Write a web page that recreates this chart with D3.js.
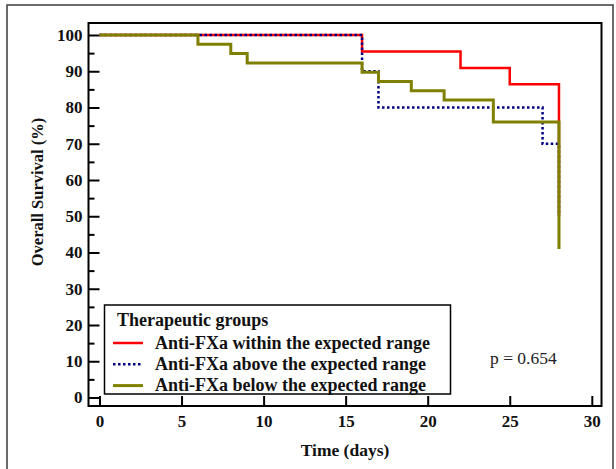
<!DOCTYPE html>
<html lang="en">
<head>
<meta charset="utf-8">
<title>Overall survival by therapeutic group</title>
<script src="https://d3js.org/d3.v7.min.js"></script>
<style>
  body { margin: 0; background: #fff; }
  text { font-family: "Liberation Serif", "Times New Roman", serif; }
</style>
</head>
<body>
<div id="chart"></div>
<script>
// Kaplan-Meier step points: [day, survival %]
var withinRange = [[0, 100], [16, 95.45], [22, 90.9], [25, 86.4], [28, 50]];
var aboveRange  = [[0, 100], [16, 90], [17, 80], [27, 70], [28, 50]];
var belowRange  = [[0, 100], [6, 97.44], [8, 94.87], [9, 92.31], [16, 89.74], [17, 87.18],
                   [19, 84.62], [21, 82.05], [24, 76.0], [28, 41]];
var endDay = 28;

var groupNames = ["Anti-FXa within the expected range",
                  "Anti-FXa above the expected range",
                  "Anti-FXa below the expected range"];
var groupColors = ["#ff0000", "#000080", "#808000"];
var xTicks = [0, 5, 10, 15, 20, 25, 30];
var yTicks = [0, 10, 20, 30, 40, 50, 60, 70, 80, 90, 100];
var yMinor = [5, 15, 25, 35, 45, 55, 65, 75, 85, 95];
var pValue = "p = 0.654";

var W = 616, H = 469;
var frame = {left: 88.5, top: 23, right: 601.5, bottom: 406};

var svg = d3.select("#chart").append("svg")
  .attr("width", W).attr("height", H);

// outer border of the figure
svg.append("rect")
  .attr("x", 7).attr("y", 5).attr("width", 606).attr("height", 480)
  .attr("fill", "none").attr("stroke", "#3a3a3a").attr("stroke-width", 1.5);

var x = d3.scaleLinear().domain([0, 30]).range([99.5, 591.8]);
var y = d3.scaleLinear().domain([0, 100]).range([397.5, 35]);

// axes with inward ticks
var yAxis = svg.append("g")
  .attr("transform", "translate(" + frame.left + ",0)")
  .call(d3.axisLeft(y).tickValues(yTicks).tickSize(-11).tickPadding(6));
var yAxisMinor = svg.append("g")
  .attr("transform", "translate(" + frame.left + ",0)")
  .call(d3.axisLeft(y).tickValues(yMinor).tickSize(-6).tickFormat(""));
var xAxis = svg.append("g")
  .attr("transform", "translate(0," + frame.bottom + ")")
  .call(d3.axisBottom(x).tickValues(xTicks).tickSize(-10).tickPadding(9));

[yAxis, yAxisMinor, xAxis].forEach(function (g) {
  g.select(".domain").remove();
  g.selectAll(".tick line").attr("stroke", "#000").attr("stroke-width", 2);
  g.selectAll(".tick text")
    .attr("fill", "#111")
    .style("font-size", "17px")
    .style("font-weight", "bold");
});

// plot frame
svg.append("rect")
  .attr("x", frame.left).attr("y", frame.top)
  .attr("width", frame.right - frame.left).attr("height", frame.bottom - frame.top)
  .attr("fill", "none").attr("stroke", "#000").attr("stroke-width", 2);

// axis titles
svg.append("text")
  .attr("x", (frame.left + frame.right) / 2).attr("y", 456)
  .attr("text-anchor", "middle")
  .style("font-size", "17.5px").style("font-weight", "bold").attr("fill", "#111")
  .text("Time (days)");

svg.append("text")
  .attr("transform", "translate(43,192) rotate(-90)")
  .attr("text-anchor", "middle")
  .style("font-size", "16.5px").style("font-weight", "bold").attr("fill", "#111")
  .text("Overall Survival (%)");

// survival step curves
function stepPath(pts) {
  var d = pts.slice();
  var last = d[d.length - 1];
  if (last[0] < endDay) d.push([endDay, last[1]]);
  return d3.line()
    .x(function (p) { return x(p[0]); })
    .y(function (p) { return y(p[1]); })
    .curve(d3.curveStepAfter)(d);
}

svg.append("path")
  .attr("d", stepPath(withinRange))
  .attr("fill", "none").attr("stroke", groupColors[0]).attr("stroke-width", 2.5);

svg.append("path")
  .attr("d", stepPath(aboveRange))
  .attr("fill", "none").attr("stroke", groupColors[1]).attr("stroke-width", 2.5)
  .attr("stroke-dasharray", "2.5,2.5");

svg.append("path")
  .attr("d", stepPath(belowRange))
  .attr("fill", "none").attr("stroke", groupColors[2]).attr("stroke-width", 3);

// legend
var legend = svg.append("g");
legend.append("rect")
  .attr("x", 104.5).attr("y", 305).attr("width", 346).attr("height", 89)
  .attr("fill", "#fff").attr("stroke", "#000").attr("stroke-width", 1.5);
legend.append("text")
  .attr("x", 117).attr("y", 326)
  .style("font-size", "18px").style("font-weight", "bold").attr("fill", "#111")
  .text("Therapeutic groups");

groupNames.forEach(function (name, i) {
  var ly = 343 + i * 21.3;
  var sample = legend.append("line")
    .attr("x1", 113).attr("x2", 143).attr("y1", ly).attr("y2", ly)
    .attr("stroke", groupColors[i]).attr("stroke-width", 2.5);
  if (i === 1) sample.attr("stroke-dasharray", "2.5,2.5");
  if (i === 2) sample.attr("stroke-width", 3);
  legend.append("text")
    .attr("x", 155).attr("y", ly + 5.5)
    .style("font-size", "18px").style("font-weight", "bold").attr("fill", "#111")
    .text(name);
});

svg.append("text")
  .attr("x", 490).attr("y", 364)
  .style("font-size", "17.5px").attr("fill", "#222")
  .text(pValue);
</script>
</body>
</html>
